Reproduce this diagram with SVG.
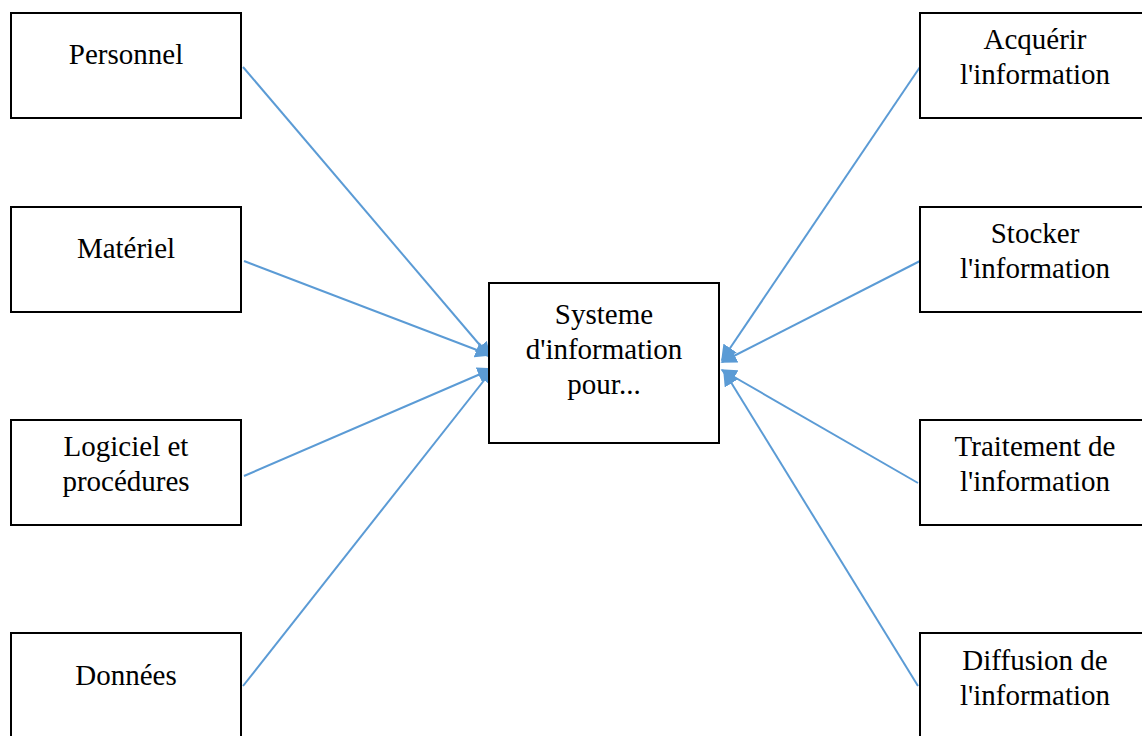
<svg xmlns="http://www.w3.org/2000/svg" width="1142" height="736" viewBox="0 0 1142 736">
<style>
.box{fill:#fff;stroke:#000;stroke-width:2}
.t{font-family:"Liberation Serif","Times New Roman",serif;font-size:29px;fill:#000;text-anchor:middle}
.c{stroke:#5B9BD5;stroke-width:2;fill:none;marker-end:url(#ah)}
</style>
<defs>
<marker id="ah" viewBox="0 0 10 10" refX="9" refY="5" markerWidth="8" markerHeight="8" orient="auto" markerUnits="strokeWidth">
<path d="M0,0 L10,5 L0,10 Z" fill="#5B9BD5"/>
</marker>
</defs>
<rect width="1142" height="736" fill="#fff"/>
<g id="connectors">
<line class="c" x1="243" y1="67" x2="490" y2="357"/>
<line class="c" x1="244" y1="261" x2="490" y2="355"/>
<line class="c" x1="244" y1="476" x2="492" y2="369"/>
<line class="c" x1="243" y1="686" x2="493" y2="369"/>
<line class="c" x1="920" y1="67" x2="722" y2="360"/>
<line class="c" x1="920" y1="261" x2="722" y2="362"/>
<line class="c" x1="918" y1="483" x2="722" y2="370"/>
<line class="c" x1="918" y1="686" x2="724" y2="371"/>
</g>
<g id="personnel"><rect class="box" x="11" y="13" width="230" height="105"/><text class="t" x="126" y="64">Personnel</text></g>
<g id="materiel"><rect class="box" x="11" y="207" width="230" height="105"/><text class="t" x="126" y="258">Matériel</text></g>
<g id="logiciel"><rect class="box" x="11" y="420" width="230" height="105"/><text class="t" x="126" y="456">Logiciel et</text><text class="t" x="126" y="491">procédures</text></g>
<g id="donnees"><rect class="box" x="11" y="633" width="230" height="110"/><text class="t" x="126" y="685">Données</text></g>
<g id="systeme"><rect class="box" x="489" y="283" width="230" height="160"/><text class="t" x="604" y="324">Systeme</text><text class="t" x="604" y="359">d'information</text><text class="t" x="604" y="394">pour...</text></g>
<g id="acquerir"><rect class="box" x="920" y="13" width="230" height="105"/><text class="t" x="1035" y="49">Acquérir</text><text class="t" x="1035" y="84">l'information</text></g>
<g id="stocker"><rect class="box" x="920" y="207" width="230" height="105"/><text class="t" x="1035" y="243">Stocker</text><text class="t" x="1035" y="278">l'information</text></g>
<g id="traitement"><rect class="box" x="920" y="420" width="230" height="105"/><text class="t" x="1035" y="456">Traitement de</text><text class="t" x="1035" y="491">l'information</text></g>
<g id="diffusion"><rect class="box" x="920" y="633" width="230" height="110"/><text class="t" x="1035" y="670">Diffusion de</text><text class="t" x="1035" y="705">l'information</text></g>
</svg>
